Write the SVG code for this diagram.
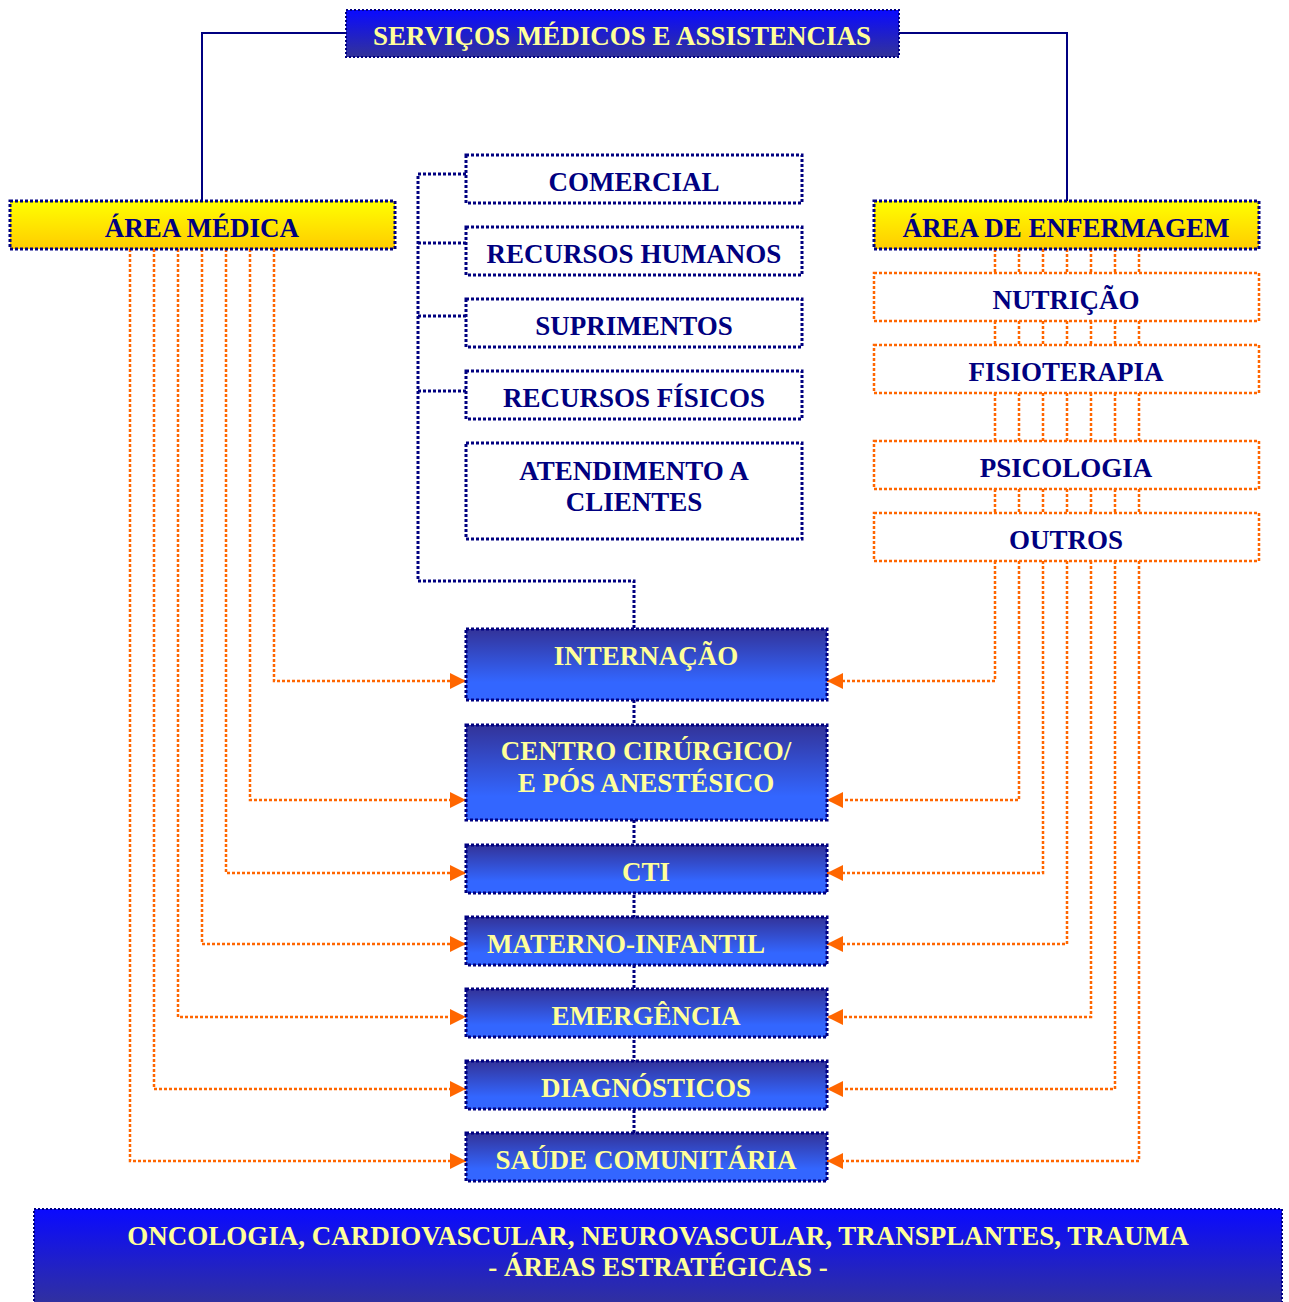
<svg xmlns="http://www.w3.org/2000/svg" width="1289" height="1302" viewBox="0 0 1289 1302">
  <style>
    .t { font-family: "Liberation Serif", "Times New Roman", serif; font-weight: bold; font-size: 27px; text-anchor: middle; }
    .navy { fill: #000080; }
    .yel { fill: #ffff99; }
    .bnav { stroke: #000080; stroke-width: 3; stroke-dasharray: 3 2; }
    .bthin { stroke: #000080; stroke-width: 2; stroke-dasharray: 2 2; }
    .bor { fill: #ffffff; stroke: #ff6600; stroke-width: 2.5; stroke-dasharray: 3 2; }
    .solid { fill: none; stroke: #000080; stroke-width: 2; }
    .dnav { fill: none; stroke: #000080; stroke-width: 3; stroke-dasharray: 3 2; }
    .dor { fill: none; stroke: #ff6600; stroke-width: 2.5; stroke-dasharray: 3 2; }
    .arr { fill: none; stroke: #ff6600; stroke-width: 2.5; stroke-dasharray: 3 2; marker-end: url(#tri); }
  </style>
  <defs>
    <linearGradient id="gTop" x1="0" y1="0" x2="0" y2="1">
      <stop offset="0" stop-color="#0a0aff"/>
      <stop offset="1" stop-color="#333399"/>
    </linearGradient>
    <linearGradient id="gYel" x1="0" y1="0" x2="0" y2="1">
      <stop offset="0" stop-color="#ffff00"/>
      <stop offset="1" stop-color="#ffcc00"/>
    </linearGradient>
    <linearGradient id="gBlue" x1="0" y1="0" x2="0" y2="1">
      <stop offset="0" stop-color="#333399"/>
      <stop offset="0.75" stop-color="#3366ff"/>
      <stop offset="1" stop-color="#3366ff"/>
    </linearGradient>
    <marker id="tri" markerUnits="userSpaceOnUse" markerWidth="16" markerHeight="16" refX="16" refY="8" orient="auto">
      <path d="M0 0 L16 8 L0 16 Z" fill="#ff6600"/>
    </marker>
  </defs>

  <!-- connectors -->
  <g id="connectors">
    <!-- header to the two areas -->
    <path class="solid" d="M346 33 H202 V201"/>
    <path class="solid" d="M899 33 H1067 V201"/>
    <!-- administrative bracket -->
    <path class="dnav" d="M466 174 H418 V581 H634 V629"/>
    <path class="dnav" d="M418 243 H466"/>
    <path class="dnav" d="M418 316 H466"/>
    <path class="dnav" d="M418 391 H466"/>
    <!-- spine through the units -->
    <path class="dnav" d="M634 700 V1133"/>
    <!-- nursing stack links -->
    <g class="dor">
      <path d="M995 249 V273 M1019 249 V273 M1043 249 V273 M1067 249 V273 M1091 249 V273 M1115 249 V273 M1139 249 V273"/>
      <path d="M995 321 V345 M1019 321 V345 M1043 321 V345 M1067 321 V345 M1091 321 V345 M1115 321 V345 M1139 321 V345"/>
      <path d="M995 393 V441 M1019 393 V441 M1043 393 V441 M1067 393 V441 M1091 393 V441 M1115 393 V441 M1139 393 V441"/>
      <path d="M995 489 V513 M1019 489 V513 M1043 489 V513 M1067 489 V513 M1091 489 V513 M1115 489 V513 M1139 489 V513"/>
    </g>
    <!-- medical area to units -->
    <path class="arr" d="M274 249 V681 H466"/>
    <path class="arr" d="M250 249 V800 H466"/>
    <path class="arr" d="M226 249 V873 H466"/>
    <path class="arr" d="M202 249 V944 H466"/>
    <path class="arr" d="M178 249 V1017 H466"/>
    <path class="arr" d="M154 249 V1089 H466"/>
    <path class="arr" d="M130 249 V1161 H466"/>
    <!-- nursing area to units -->
    <path class="arr" d="M995 561 V681 H827"/>
    <path class="arr" d="M1019 561 V800 H827"/>
    <path class="arr" d="M1043 561 V873 H827"/>
    <path class="arr" d="M1067 561 V944 H827"/>
    <path class="arr" d="M1091 561 V1017 H827"/>
    <path class="arr" d="M1115 561 V1089 H827"/>
    <path class="arr" d="M1139 561 V1161 H827"/>
  </g>

  <!-- header -->
  <g id="servicos">
    <rect x="346" y="10" width="553" height="47" fill="url(#gTop)" class="bthin"/>
    <text class="t yel" x="622" y="45">SERVIÇOS MÉDICOS E ASSISTENCIAS</text>
  </g>

  <!-- areas -->
  <g id="area-medica">
    <rect x="10" y="201" width="385" height="48" fill="url(#gYel)" class="bnav"/>
    <text class="t navy" x="202" y="237">ÁREA MÉDICA</text>
  </g>
  <g id="area-enfermagem">
    <rect x="874" y="201" width="385" height="48" fill="url(#gYel)" class="bnav"/>
    <text class="t navy" x="1066" y="237">ÁREA DE ENFERMAGEM</text>
  </g>

  <!-- nursing services -->
  <g id="nutricao">
    <rect x="874" y="273" width="385" height="48" class="bor"/>
    <text class="t navy" x="1066" y="309">NUTRIÇÃO</text>
  </g>
  <g id="fisioterapia">
    <rect x="874" y="345" width="385" height="48" class="bor"/>
    <text class="t navy" x="1066" y="381">FISIOTERAPIA</text>
  </g>
  <g id="psicologia">
    <rect x="874" y="441" width="385" height="48" class="bor"/>
    <text class="t navy" x="1066" y="477">PSICOLOGIA</text>
  </g>
  <g id="outros">
    <rect x="874" y="513" width="385" height="48" class="bor"/>
    <text class="t navy" x="1066" y="549">OUTROS</text>
  </g>

  <!-- administrative departments -->
  <g id="comercial">
    <rect x="466" y="155" width="336" height="48" fill="#ffffff" class="bnav"/>
    <text class="t navy" x="634" y="191">COMERCIAL</text>
  </g>
  <g id="recursos-humanos">
    <rect x="466" y="227" width="336" height="48" fill="#ffffff" class="bnav"/>
    <text class="t navy" x="634" y="263">RECURSOS HUMANOS</text>
  </g>
  <g id="suprimentos">
    <rect x="466" y="299" width="336" height="48" fill="#ffffff" class="bnav"/>
    <text class="t navy" x="634" y="335">SUPRIMENTOS</text>
  </g>
  <g id="recursos-fisicos">
    <rect x="466" y="371" width="336" height="48" fill="#ffffff" class="bnav"/>
    <text class="t navy" x="634" y="407">RECURSOS FÍSICOS</text>
  </g>
  <g id="atendimento">
    <rect x="466" y="443" width="336" height="96" fill="#ffffff" class="bnav"/>
    <text class="t navy" x="634" y="480">ATENDIMENTO A</text>
    <text class="t navy" x="634" y="511">CLIENTES</text>
  </g>

  <!-- care units -->
  <g id="internacao">
    <rect x="466" y="629" width="361" height="71" fill="url(#gBlue)" class="bnav"/>
    <text class="t yel" x="646" y="665">INTERNAÇÃO</text>
  </g>
  <g id="centro-cirurgico">
    <rect x="466" y="725" width="361" height="95" fill="url(#gBlue)" class="bnav"/>
    <text class="t yel" x="646" y="760">CENTRO CIRÚRGICO/</text>
    <text class="t yel" x="646" y="792">E PÓS ANESTÉSICO</text>
  </g>
  <g id="cti">
    <rect x="466" y="845" width="361" height="48" fill="url(#gBlue)" class="bnav"/>
    <text class="t yel" x="646" y="881">CTI</text>
  </g>
  <g id="materno-infantil">
    <rect x="466" y="917" width="361" height="48" fill="url(#gBlue)" class="bnav"/>
    <text class="t yel" x="626" y="953">MATERNO-INFANTIL</text>
  </g>
  <g id="emergencia">
    <rect x="466" y="989" width="361" height="48" fill="url(#gBlue)" class="bnav"/>
    <text class="t yel" x="646" y="1025">EMERGÊNCIA</text>
  </g>
  <g id="diagnosticos">
    <rect x="466" y="1061" width="361" height="48" fill="url(#gBlue)" class="bnav"/>
    <text class="t yel" x="646" y="1097">DIAGNÓSTICOS</text>
  </g>
  <g id="saude-comunitaria">
    <rect x="466" y="1133" width="361" height="48" fill="url(#gBlue)" class="bnav"/>
    <text class="t yel" x="646" y="1169">SAÚDE COMUNITÁRIA</text>
  </g>

  <!-- strategic areas -->
  <g id="areas-estrategicas">
    <rect x="34" y="1209" width="1248" height="100" fill="url(#gTop)" class="bthin"/>
    <text class="t yel" x="658" y="1245">ONCOLOGIA, CARDIOVASCULAR, NEUROVASCULAR, TRANSPLANTES, TRAUMA</text>
    <text class="t yel" x="658" y="1276">- ÁREAS ESTRATÉGICAS -</text>
  </g>
</svg>
